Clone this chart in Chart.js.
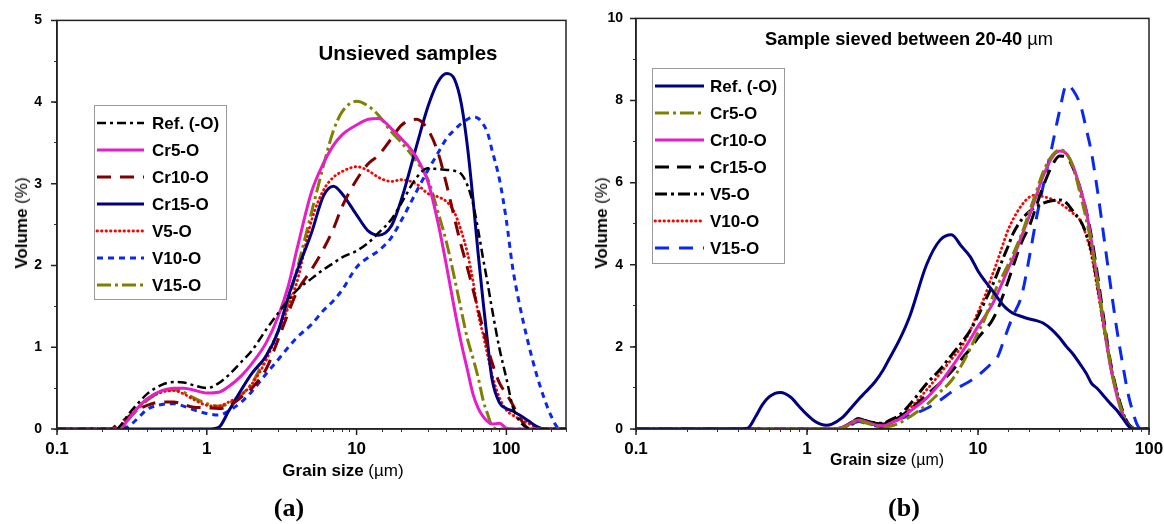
<!DOCTYPE html>
<html>
<head>
<meta charset="utf-8">
<script src="https://cdn.jsdelivr.net/npm/chart.js@4.4.1/dist/chart.umd.min.js"></script>
<style>
  body { margin: 0; background: #fff; font-family: "Liberation Sans", Arial, sans-serif; }
  #page { position: relative; width: 1164px; height: 524px; overflow: hidden; background: #fff; }
  canvas { position: absolute; top: 0; }
  .txt { position: absolute; transform: translate(-50%, -50%); white-space: nowrap; color: #000; }
  .ytitle { transform: translate(-50%, -50%) rotate(-90deg); }
  .cap { font-family: "Liberation Serif", "Times New Roman", serif; font-weight: bold; font-size: 26px; }
</style>
</head>
<body>
<div id="page">
  <canvas id="chartA" width="582" height="524" style="left:0"></canvas>
  <canvas id="chartB" width="600" height="524" style="left:582px"></canvas>

  <div class="txt" style="left:408px;top:53px;font-size:20.5px;font-weight:bold">Unsieved samples</div>
  <div class="txt" style="left:909px;top:39px;font-size:18.3px"><b>Sample sieved between 20-40 </b>µm</div>

  <div class="txt" style="left:343px;top:471px;font-size:17px"><b>Grain size</b> (µm)</div>
  <div class="txt" style="left:887px;top:460px;font-size:16px"><b>Grain size</b> (µm)</div>

  <div class="txt ytitle" style="left:22px;top:223px;font-size:17px"><b>Volume</b> (%)</div>
  <div class="txt ytitle" style="left:602px;top:223px;font-size:17px"><b>Volume</b> (%)</div>

  <div class="txt cap" style="left:289px;top:508px">(a)</div>
  <div class="txt cap" style="left:904px;top:508px">(b)</div>
</div>

<script>
// (a) unsieved samples, grain size in µm and volume in %
const sizeA = [0.1, 0.2, 0.23, 0.25, 0.27, 0.3, 0.35, 0.4, 0.5, 0.6, 0.7, 0.8, 1, 1.2, 1.4, 1.7, 2, 2.5, 3, 3.5,
  4, 5, 6, 7, 8, 10, 12, 14, 17, 20, 25, 30, 35, 40, 45, 50, 55, 60, 65, 70, 75, 80, 90, 100, 110, 120, 140, 160, 180, 200, 220, 250];
const refA = [0, 0, 0, 0, 0.06, 0.18, 0.32, 0.43, 0.54, 0.575, 0.57, 0.54, 0.5, 0.56, 0.66, 0.82, 0.96, 1.22, 1.42, 1.58,
  1.7, 1.84, 1.95, 2.03, 2.1, 2.18, 2.28, 2.4, 2.56, 2.77, 3.07, 3.19, 3.18, 3.17, 3.16, 3.12, 2.98, 2.75, 2.42, 2.08,
  1.78, 1.48, 0.98, 0.62, 0.28, 0.12, 0.01, 0, 0, 0, 0, 0];
const cr5A = [0, 0, 0, 0, 0.02, 0.12, 0.27, 0.37, 0.47, 0.5, 0.5, 0.48, 0.44, 0.45, 0.52, 0.65, 0.8, 1.06, 1.38, 1.75,
  2.2, 2.9, 3.25, 3.47, 3.6, 3.72, 3.79, 3.8, 3.68, 3.55, 3.33, 3.02, 2.52, 1.98, 1.47, 1.05, 0.72, 0.42, 0.25, 0.15,
  0.09, 0.06, 0.07, 0.01, 0, 0, 0, 0, 0, 0, 0, 0];
const cr10A = [0, 0, 0, 0.05, 0.09, 0.15, 0.24, 0.29, 0.33, 0.33, 0.3, 0.27, 0.26, 0.25, 0.28, 0.39, 0.5, 0.74, 1.1, 1.42,
  1.68, 1.95, 2.2, 2.45, 2.72, 3.05, 3.25, 3.35, 3.55, 3.72, 3.79, 3.66, 3.38, 2.98, 2.58, 2.24, 1.97, 1.7, 1.45, 1.22,
  1.0, 0.82, 0.56, 0.43, 0.3, 0.17, 0.01, 0, 0, 0, 0, 0];
const cr15A = [0, 0, 0, 0, 0, 0, 0, 0, 0, 0, 0, 0, 0, 0.02, 0.22, 0.48, 0.68, 0.9, 1.2, 1.62,
  1.93, 2.4, 2.85, 2.97, 2.88, 2.62, 2.42, 2.37, 2.48, 2.82, 3.45, 3.95, 4.25, 4.35, 4.28, 3.98, 3.45, 2.79, 2.12, 1.55,
  1.05, 0.62, 0.32, 0.25, 0.22, 0.18, 0.1, 0.03, 0, 0, 0, 0];
const v5A = [0, 0, 0, 0, 0.05, 0.14, 0.27, 0.36, 0.45, 0.47, 0.43, 0.37, 0.29, 0.28, 0.33, 0.42, 0.55, 0.85, 1.2, 1.49,
  1.8, 2.55, 2.92, 3.08, 3.15, 3.21, 3.16, 3.08, 3.03, 3.05, 3.0, 2.88, 2.84, 2.78, 2.65, 2.42, 2.15, 1.8, 1.4, 1.15,
  0.9, 0.67, 0.38, 0.23, 0.17, 0.13, 0.07, 0.02, 0, 0, 0, 0];
const v10A = [0, 0, 0, 0, 0, 0.03, 0.14, 0.24, 0.3, 0.31, 0.28, 0.24, 0.19, 0.17, 0.22, 0.33, 0.46, 0.68, 0.85, 1.0,
  1.12, 1.28, 1.45, 1.57, 1.7, 1.98, 2.1, 2.18, 2.34, 2.56, 2.9, 3.17, 3.38, 3.56, 3.66, 3.74, 3.79, 3.82, 3.8, 3.73,
  3.62, 3.42, 3.05, 2.55, 1.98, 1.6, 1.05, 0.65, 0.36, 0.15, 0.02, 0];
const v15A = [0, 0, 0, 0, 0, 0.12, 0.25, 0.35, 0.46, 0.48, 0.45, 0.39, 0.31, 0.28, 0.31, 0.42, 0.56, 0.9, 1.2, 1.55,
  1.95, 2.65, 3.22, 3.65, 3.88, 4.01, 3.95, 3.84, 3.64, 3.5, 3.28, 3.05, 2.65, 2.27, 1.85, 1.45, 1.1, 0.86, 0.62, 0.35,
  0.18, 0.04, 0, 0, 0, 0, 0, 0, 0, 0, 0, 0];

// (b) sample sieved between 20 and 40 µm
const sizeB = [0.1, 0.4, 0.45, 0.5, 0.55, 0.6, 0.65, 0.7, 0.8, 0.9, 1, 1.1, 1.2, 1.3, 1.4, 1.6, 1.8, 2, 2.2, 2.5,
  2.8, 3, 3.5, 4, 5, 6, 7, 8, 9, 10, 11, 12, 13, 14, 15, 16, 18, 20, 22, 24, 27, 30, 33, 36, 40, 43, 46, 50, 55, 60,
  65, 70, 75, 80, 85, 90, 100];
const refB = [0, 0, 0.02, 0.3, 0.6, 0.78, 0.87, 0.89, 0.78, 0.55, 0.35, 0.2, 0.12, 0.09, 0.12, 0.27, 0.5, 0.72, 0.9, 1.15,
  1.45, 1.68, 2.2, 2.76, 4.0, 4.6, 4.73, 4.45, 4.2, 3.85, 3.6, 3.4, 3.2, 3.02, 2.9, 2.82, 2.74, 2.68, 2.64, 2.58,
  2.42, 2.22, 2.0, 1.82, 1.55, 1.35, 1.12, 0.98, 0.78, 0.6, 0.45, 0.27, 0.1, 0, 0, 0, 0];
const cr5B = [0, 0, 0, 0, 0, 0, 0, 0, 0, 0, 0, 0, 0, 0, 0, 0.02, 0.12, 0.2, 0.15, 0.08,
  0.05, 0.06, 0.15, 0.3, 0.59, 0.9, 1.18, 1.55, 1.96, 2.35, 2.7, 3.15, 3.5, 3.75, 4.0, 4.25, 4.75, 5.3, 5.8, 6.25,
  6.65, 6.8, 6.7, 6.38, 5.65, 5.1, 4.5, 3.6, 2.45, 1.5, 0.85, 0.4, 0.12, 0.02, 0, 0, 0];
const cr10B = [0, 0, 0, 0, 0, 0, 0, 0, 0, 0, 0, 0, 0, 0, 0, 0.03, 0.14, 0.22, 0.18, 0.1,
  0.08, 0.12, 0.25, 0.43, 0.75, 1.12, 1.5, 1.85, 2.18, 2.5, 2.75, 3.0, 3.3, 3.6, 3.9, 4.15, 4.7, 5.2, 5.7, 6.15,
  6.6, 6.77, 6.7, 6.4, 5.8, 5.3, 4.6, 3.6, 2.4, 1.45, 0.8, 0.35, 0.1, 0.01, 0, 0, 0];
const cr15B = [0, 0, 0, 0, 0, 0, 0, 0, 0, 0, 0, 0, 0, 0, 0, 0.03, 0.15, 0.25, 0.2, 0.14,
  0.12, 0.16, 0.3, 0.48, 0.83, 1.12, 1.4, 1.7, 1.95, 2.22, 2.42, 2.62, 2.9, 3.25, 3.6, 3.95, 4.55, 4.95, 5.45, 5.9,
  6.4, 6.65, 6.62, 6.35, 5.8, 5.3, 4.7, 3.75, 2.55, 1.55, 0.9, 0.45, 0.15, 0.03, 0, 0, 0];
const v5B = [0, 0, 0, 0, 0, 0, 0, 0, 0, 0, 0, 0, 0, 0, 0, 0.03, 0.15, 0.25, 0.2, 0.15,
  0.14, 0.2, 0.35, 0.6, 1.1, 1.45, 1.8, 2.1, 2.4, 2.75, 3.12, 3.45, 3.8, 4.15, 4.45, 4.75, 5.1, 5.3, 5.42, 5.5,
  5.56, 5.58, 5.5, 5.3, 5.05, 4.75, 4.35, 3.5, 2.4, 1.5, 0.88, 0.42, 0.14, 0.03, 0, 0, 0];
const v10B = [0, 0, 0, 0, 0, 0, 0, 0, 0, 0, 0, 0, 0, 0, 0, 0.02, 0.12, 0.2, 0.16, 0.1,
  0.1, 0.15, 0.3, 0.5, 0.95, 1.35, 1.7, 2.0, 2.4, 2.85, 3.25, 3.7, 4.1, 4.5, 4.85, 5.1, 5.45, 5.65, 5.7, 5.66,
  5.6, 5.5, 5.38, 5.25, 5.05, 4.7, 4.25, 3.4, 2.35, 1.45, 0.85, 0.4, 0.13, 0.03, 0, 0, 0];
const v15B = [0, 0, 0, 0, 0, 0, 0, 0, 0, 0, 0, 0, 0, 0, 0, 0.02, 0.1, 0.18, 0.14, 0.08,
  0.06, 0.1, 0.25, 0.33, 0.5, 0.7, 0.9, 1.05, 1.17, 1.3, 1.45, 1.6, 1.75, 2.1, 2.45, 2.75, 3.25, 4.2, 5.15, 5.9,
  6.85, 7.75, 8.38, 8.25, 7.85, 7.3, 6.75, 5.8, 4.55, 3.4, 2.4, 1.6, 0.91, 0.45, 0.12, 0, 0];

const names = ['Ref. (-O)', 'Cr5-O', 'Cr10-O', 'Cr15-O', 'V5-O', 'V10-O', 'V15-O'];
const yTicksA = [0, 1, 2, 3, 4, 5];
const yTicksB = [0, 2, 4, 6, 8, 10];
const xTicks = [0.1, 1, 10, 100];

// line looks, same order as names
const lookA = [
  { color: '#000000', dash: [9, 4, 3, 4], width: 2.5 },
  { color: '#e61ec8', dash: [], width: 3 },
  { color: '#800000', dash: [14, 9], width: 3 },
  { color: '#000080', dash: [], width: 3 },
  { color: '#ff0000', dash: [0.5, 4], width: 2.8, cap: 'round' },
  { color: '#0a28f0', dash: [6, 5], width: 3 },
  { color: '#808000', dash: [14, 4, 3, 4], width: 3 }
];
const lookB = [
  { color: '#000080', dash: [], width: 3 },
  { color: '#808000', dash: [14, 4, 3, 4], width: 3 },
  { color: '#e61ec8', dash: [], width: 3 },
  { color: '#000000', dash: [14, 8], width: 3 },
  { color: '#000000', dash: [12, 4, 3, 4], width: 3 },
  { color: '#ff0000', dash: [0.5, 4], width: 2.8, cap: 'round' },
  { color: '#0a28f0', dash: [14, 10], width: 3 }
];

const FONT = '"Liberation Sans", Arial, sans-serif';

// legend drawn as a framed box inside the plot
const boxLegend = {
  id: 'boxLegend',
  afterDatasetsDraw(chart, args, o) {
    const ctx = chart.ctx;
    ctx.save();
    ctx.fillStyle = '#fff';
    ctx.fillRect(o.x, o.y, o.w, o.h);
    ctx.strokeStyle = '#9a9a9a';
    ctx.lineWidth = 1;
    ctx.strokeRect(o.x + 0.5, o.y + 0.5, o.w, o.h);
    ctx.font = 'bold 17px ' + FONT;
    ctx.textBaseline = 'middle';
    chart.data.datasets.forEach((ds, i) => {
      const y = o.y + o.first + i * o.step;
      ctx.beginPath();
      ctx.setLineDash(ds.borderDash);
      ctx.lineCap = ds.borderCapStyle;
      ctx.strokeStyle = ds.borderColor;
      ctx.lineWidth = ds.borderWidth;
      ctx.moveTo(o.x + o.l0, y);
      ctx.lineTo(o.x + o.l1, y);
      ctx.stroke();
      ctx.setLineDash([]);
      ctx.fillStyle = '#000';
      ctx.fillText(ds.label, o.x + o.tx, y + 1);
    });
    ctx.restore();
  }
};

// closes the plot box and lengthens the labelled ticks
const frame = {
  id: 'frame',
  afterDraw(chart, args, o) {
    const { ctx, chartArea: a, scales } = chart;
    ctx.save();
    ctx.strokeStyle = '#222';
    ctx.lineWidth = 1.5;
    ctx.strokeRect(a.left, a.top, a.right - a.left, a.bottom - a.top);
    ctx.beginPath();
    xTicks.forEach(v => {
      if (v > scales.x.max) return;
      const p = scales.x.getPixelForValue(v);
      ctx.moveTo(p, a.bottom);
      ctx.lineTo(p, a.bottom + 6);
    });
    o.yMajor.forEach(v => {
      const p = scales.y.getPixelForValue(v);
      ctx.moveTo(a.left, p);
      ctx.lineTo(a.left - 6, p);
    });
    ctx.stroke();
    ctx.restore();
  }
};

function datasets(sizes, series, looks) {
  return series.map((vals, i) => ({
    label: names[i],
    data: sizes.map((s, k) => ({ x: s, y: vals[k] })),
    borderColor: looks[i].color,
    borderDash: looks[i].dash,
    borderWidth: looks[i].width,
    borderCapStyle: looks[i].cap || 'butt',
    borderJoinStyle: 'round',
    pointRadius: 0,
    fill: false,
    cubicInterpolationMode: 'monotone'
  }));
}

function makeChart(id, sizes, series, looks, cfg) {
  const tickFont = { family: FONT, weight: 'bold' };
  new Chart(document.getElementById(id), {
    type: 'line',
    data: { datasets: datasets(sizes, series, looks) },
    options: {
      responsive: false,
      animation: false,
      devicePixelRatio: 1,
      layout: { padding: cfg.padding },
      plugins: {
        legend: { display: false },
        tooltip: { enabled: false },
        boxLegend: cfg.legend,
        frame: { yMajor: cfg.yTicks }
      },
      scales: {
        x: {
          type: 'logarithmic',
          min: 0.1,
          max: cfg.xMax,
          border: { display: true, color: '#222', width: 1.5 },
          grid: { drawOnChartArea: false, drawTicks: true, tickLength: 3, color: '#333' },
          ticks: {
            autoSkip: false,
            maxRotation: 0,
            padding: 7,
            color: '#000',
            font: { ...tickFont, size: 17 },
            callback: v => xTicks.some(t => Math.abs(t - v) < 1e-9) ? String(v) : ''
          },
          afterFit(s) { s.height = 95; }
        },
        y: {
          min: 0,
          max: cfg.yMax,
          border: { display: true, color: '#222', width: 1.5 },
          grid: { drawOnChartArea: false, drawTicks: true, tickLength: 3, color: '#333' },
          ticks: {
            stepSize: cfg.yStep,
            padding: cfg.yPad,
            color: '#000',
            font: { ...tickFont, size: 14 },
            callback: v => cfg.yTicks.includes(v) ? String(v) : ''
          },
          afterFit(s) { s.width = 45; }
        }
      }
    },
    plugins: [boxLegend, frame]
  });
}

makeChart('chartA', sizeA, [refA, cr5A, cr10A, cr15A, v5A, v10A, v15A], lookA, {
  xMax: 250, yMax: 5, yStep: 0.5, yTicks: yTicksA, yPad: 12,
  padding: { left: 12, right: 16, top: 18, bottom: 0 },
  legend: { x: 94, y: 105, w: 132, h: 194, first: 18, step: 27, l0: 3, l1: 50, tx: 58 }
});

makeChart('chartB', sizeB, [refB, cr5B, cr10B, cr15B, v5B, v10B, v15B], lookB, {
  xMax: 100, yMax: 10, yStep: 1, yTicks: yTicksB, yPad: 10,
  padding: { left: 9, right: 33, top: 17, bottom: 0 },
  legend: { x: 70, y: 68, w: 132, h: 195, first: 18, step: 27, l0: 3, l1: 52, tx: 58 }
});
</script>
</body>
</html>
